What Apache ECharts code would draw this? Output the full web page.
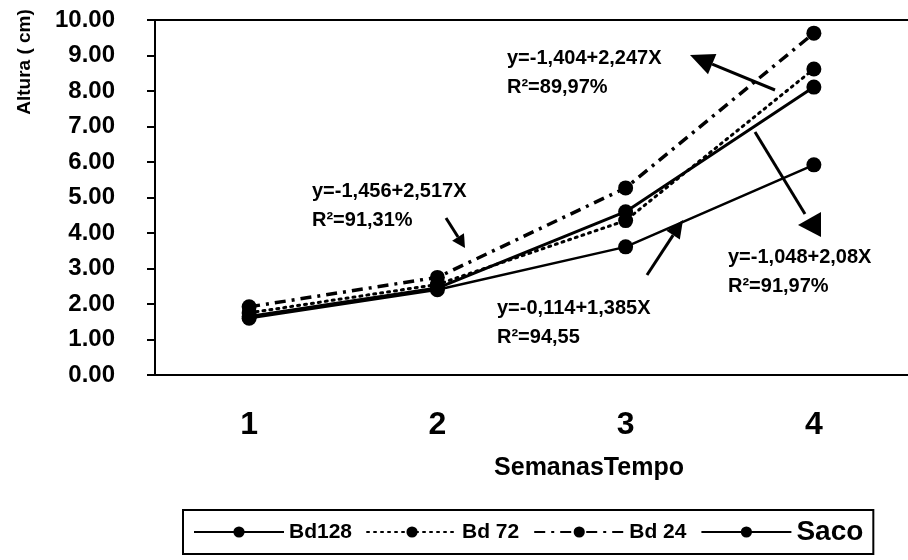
<!DOCTYPE html>
<html>
<head>
<meta charset="utf-8">
<script src="https://cdn.jsdelivr.net/npm/echarts@6/dist/echarts.min.js"></script>
<style>
html,body{margin:0;padding:0;background:#fff;}
#chart{width:908px;height:560px;}
</style>
</head>
<body>
<div id="chart"></div>
<script>
// semanas (eixo x)
var weeks = ['1', '2', '3', '4'];
// altura (cm) por tratamento
var bd128 = [1.65, 2.45, 4.60, 8.11];
var bd72 = [1.75, 2.55, 4.35, 8.62];
var bd24 = [1.92, 2.75, 5.27, 9.63];
var saco = [1.60, 2.40, 3.61, 5.92];
var seriesNames = ['Bd128', 'Bd 72', 'Bd 24', 'Saco'];
// eixo y
var yMin = 0, yMax = 10, yStep = 1;
// equações de regressão
var eqLines = ['y=-1,404+2,247X', 'y=-1,456+2,517X', 'y=-0,114+1,385X', 'y=-1,048+2,08X'];
var r2Lines = ['R²=89,97%', 'R²=91,31%', 'R²=94,55', 'R²=91,97%'];

var FONT = '"Liberation Sans", Arial, sans-serif';
var chart = echarts.init(document.getElementById('chart'));

function arrow(x1, y1, x2, y2, len, half) {
    var dx = x2 - x1, dy = y2 - y1, d = Math.sqrt(dx * dx + dy * dy);
    var ux = dx / d, uy = dy / d;
    var bx = x2 - ux * len, by = y2 - uy * len;
    return [
        {type: 'line', z: 50, shape: {x1: x1, y1: y1, x2: bx, y2: by}, style: {stroke: '#000', lineWidth: 3}},
        {type: 'polygon', z: 50, shape: {points: [[x2, y2], [bx - uy * half, by + ux * half], [bx + uy * half, by - ux * half]]}, style: {fill: '#000'}}
    ];
}
function label(txt, x, y) {
    return {type: 'text', z: 50, x: x, y: y, style: {text: txt, font: 'bold 20px ' + FONT, fill: '#000', verticalAlign: 'middle'}};
}

var eqPos = [[507, 58], [312, 191], [497, 308], [728, 257]];
var graphics = [];
eqLines.forEach(function (t, i) {
    graphics.push(label(t, eqPos[i][0], eqPos[i][1]));
    graphics.push(label(r2Lines[i], eqPos[i][0], eqPos[i][1] + 29));
});
graphics = graphics.concat(arrow(775, 90, 690, 55, 24, 11));
graphics = graphics.concat(arrow(446, 218, 465, 248, 13, 7));
graphics = graphics.concat(arrow(647, 275, 683, 220, 18, 8));
graphics.push({type: 'line', z: 50, shape: {x1: 755, y1: 132, x2: 805, y2: 214}, style: {stroke: '#000', lineWidth: 3}});
graphics.push({type: 'polygon', z: 50, shape: {points: [[798, 225], [821, 212], [821, 237]]}, style: {fill: '#000'}});
// nomes dos eixos
graphics.push({type: 'text', x: 25, y: 62, rotation: Math.PI / 2,
    style: {text: 'Altura ( cm)', font: 'bold 19px ' + FONT, fill: '#000', align: 'center', verticalAlign: 'middle'}});
graphics.push({type: 'text', x: 589, y: 468,
    style: {text: 'SemanasTempo', font: 'bold 25px ' + FONT, fill: '#000', align: 'center', verticalAlign: 'middle'}});

var lineStyles = [
    {color: '#000', width: 3, type: 'solid'},
    {color: '#000', width: 3, type: [2, 5], cap: 'round'},
    {color: '#000', width: 3.5, type: [11, 6, 3, 6]},
    {color: '#000', width: 2.5, type: 'solid'}
];
var dataSets = [bd128, bd72, bd24, saco];
var series = dataSets.map(function (d, i) {
    return {
        name: seriesNames[i],
        type: 'line',
        data: d,
        symbol: 'circle',
        symbolSize: 15,
        itemStyle: {color: '#000'},
        lineStyle: lineStyles[i]
    };
});

chart.setOption({
    animation: false,
    backgroundColor: '#fff',
    textStyle: {fontFamily: FONT, color: '#000'},
    grid: {left: 155, top: 20, right: -5, bottom: 185},
    legend: {
        left: 183, top: 510,
        padding: [8, 10],
        borderColor: '#000', borderWidth: 2,
        itemWidth: 90, itemHeight: 14, itemGap: 14,
        data: seriesNames,
        formatter: function (n) { return n === 'Saco' ? '{big|Saco}' : n; },
        textStyle: {fontSize: 21, fontWeight: 'bold', color: '#000', fontFamily: FONT,
            rich: {big: {fontSize: 28, fontWeight: 'bold', fontFamily: FONT, color: '#000'}}}
    },
    xAxis: [{
        type: 'category',
        data: weeks,
        boundaryGap: true,
        axisLine: {lineStyle: {color: '#000', width: 2}},
        axisTick: {length: 7, lineStyle: {color: '#000', width: 2}},
        axisLabel: {fontSize: 32, fontWeight: 'bold', color: '#000', margin: 34}
    }, {
        // linha superior da área do gráfico
        type: 'category',
        data: weeks,
        position: 'top',
        axisLine: {lineStyle: {color: '#000', width: 2}},
        axisTick: {show: false},
        axisLabel: {show: false}
    }],
    yAxis: {
        type: 'value',
        min: yMin, max: yMax, interval: yStep,
        splitLine: {show: false},
        axisLine: {show: true, lineStyle: {color: '#000', width: 2}},
        axisTick: {show: true, length: 8, lineStyle: {color: '#000', width: 2}},
        axisLabel: {fontSize: 24, fontWeight: 'bold', color: '#000', margin: 40,
            formatter: function (v) { return v.toFixed(2); }}
    },
    graphic: graphics,
    series: series
});
</script>
</body>
</html>
